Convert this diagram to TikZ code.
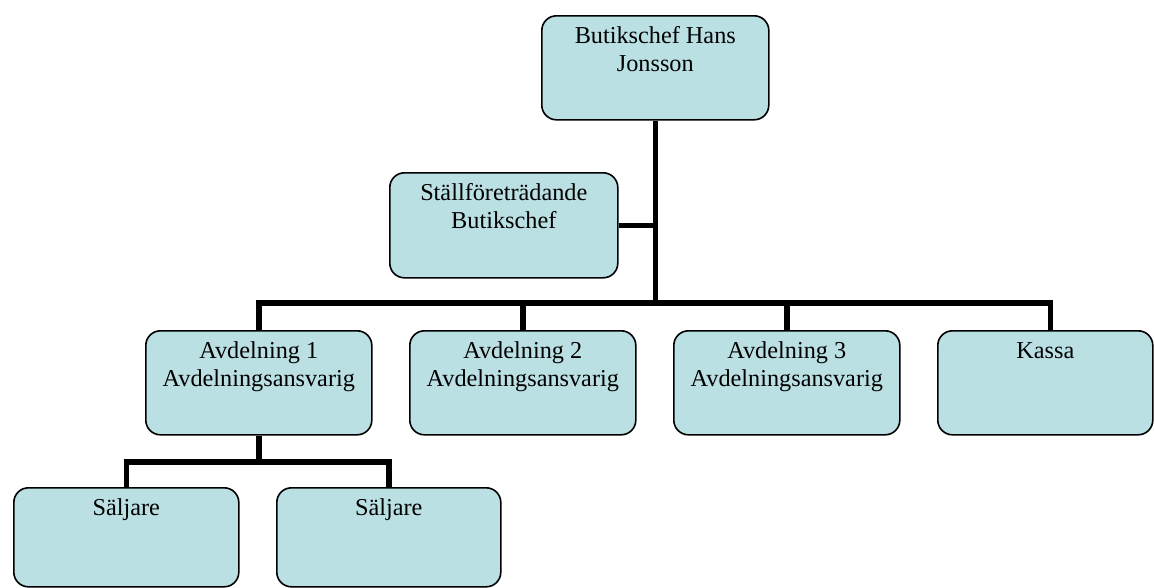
\documentclass[tikz,border=0pt]{standalone}
\usepackage{fontspec}
\setmainfont{Liberation Serif}
\definecolor{boxfill}{HTML}{BBE0E3}
\newcommand{\boxtext}[3]{\parbox[t][#2][t]{#1}{\fontsize{18.2}{21}\selectfont\centering\rule{0pt}{21pt}#3\par}}
\begin{document}
\begin{tikzpicture}[x=0.75pt,y=-0.75pt,
  orgbox/.style={draw=black, fill=boxfill, line width=1.2pt, rounded corners=11pt, inner sep=0pt, anchor=north west},
  conn/.style={line width=4.2pt, draw=black}]
\useasboundingbox (0,0) rectangle (1154,587);
\node[orgbox] (top) at (541,15) {\boxtext{170.25pt}{78pt}{Butikschef Hans\\Jonsson}};
\node[orgbox] (stf) at (389,172) {\boxtext{171pt}{78.75pt}{Ställföreträdande\\Butikschef}};
\node[orgbox] (a1) at (145,330) {\boxtext{169.5pt}{78pt}{Avdelning 1\\Avdelningsansvarig}};
\node[orgbox] (a2) at (409,330) {\boxtext{169.5pt}{78pt}{Avdelning 2\\Avdelningsansvarig}};
\node[orgbox] (a3) at (673,330) {\boxtext{169.5pt}{78pt}{Avdelning 3\\Avdelningsansvarig}};
\node[orgbox] (kassa) at (937,330) {\boxtext{161.25pt}{78pt}{Kassa}};
\node[orgbox] (s1) at (13,487) {\boxtext{168.75pt}{74.25pt}{Säljare}};
\node[orgbox] (s2) at (276,487) {\boxtext{168pt}{74.25pt}{Säljare}};
\coordinate (bar) at (0,303);
\coordinate (sbar) at (0,462);
\coordinate (kin) at ([xshift=4pt]kassa.north);
\draw[conn] (top.south) -- (top.south |- bar);
\draw[conn] (stf.east) -- (stf.east -| top.south);
\draw[conn] (a1.north) -- (a1.north |- bar) -- (kin |- bar) -- (kin);
\draw[conn] (a2.north) -- (a2.north |- bar);
\draw[conn] (a3.north) -- (a3.north |- bar);
\draw[conn] (a1.south) -- (a1.south |- sbar);
\draw[conn] (s1.north) -- (s1.north |- sbar) -- (s2.north |- sbar) -- (s2.north);
\end{tikzpicture}
\end{document}
